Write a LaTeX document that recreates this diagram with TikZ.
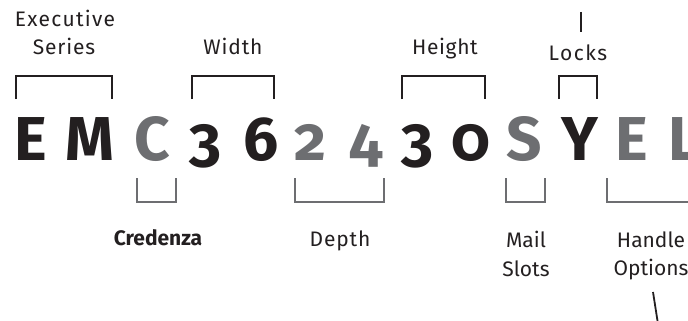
\documentclass[tikz,border=0pt]{standalone}
\usepackage{fontspec}
\setmainfont{Fira Sans}
\newfontfamily\codefont[Numbers=OldStyle]{Fira Sans}
\usepackage{xcolor}
\usetikzlibrary{positioning}
\definecolor{inkdark}{HTML}{231F20}
\definecolor{inkgray}{HTML}{6D6E71}
\tikzset{
  charbase/.style={anchor=base,inner sep=0pt,font=\codefont\bfseries\fontsize{62}{62}\selectfont},
  keychar/.style={charbase,text=inkdark},
  optchar/.style={charbase,text=inkgray},
  fieldname/.style={anchor=base,inner sep=0pt,text=inkdark,font=\fontsize{21}{28}\selectfont},
  spaced/.style={fieldname,font=\fontsize{21}{28}\selectfont\addfontfeature{LetterSpace=#1}},
  upbracket/.style={draw=inkdark,line width=2pt},
  downbracket/.style={draw=inkgray,line width=2pt},
  leader/.style={draw=inkdark,line width=1.8pt}
}
\begin{document}
\begin{tikzpicture}[x=1pt,y=-1pt]
  \useasboundingbox (0,0) rectangle (688,321);
  \clip (0,0) rectangle (688,321);

  % model code
  \node[keychar] (e1) at (31,160) {E};
  \node[keychar] (m)  at (90,160) {M};
  \node[optchar] (c)  at (152,160) {C};
  \node[keychar] (w1) at (205,160) {3};
  \node[keychar] (w2) at (261,160) {6};
  \node[optchar] (d1) at (311,160) {2};
  \node[optchar] (d2) at (366,160) {4};
  \node[keychar] (h1) at (417,160) {3};
  \node[keychar] (h2) at (471,160) {0};
  \node[optchar] (s)  at (524,160) {S};
  \node[keychar] (y)  at (580,160) {Y};
  \node[optchar] (e2) at (632,160) {E};
  \node[optchar] (l)  at (684,160) {L};

  % brackets above
  \draw[upbracket] (16,99) |- (112,76) -- (112,99);
  \draw[upbracket] (192,99) |- (274,76) -- (274,99);
  \draw[upbracket] (402,99) |- (485,76) -- (485,99);
  \draw[upbracket] (559,99) |- (597,76) -- (597,99);

  % brackets below
  \draw[downbracket] (137,178) |- (176,202) -- (176,178);
  \draw[downbracket] (295,178) |- (384,202) -- (384,178);
  \draw[downbracket] (506,178) |- (545,202) -- (545,178);
  \draw[downbracket] (607,178) |- (720,202);

  % field names
  \node[spaced=6] (exec)   at (65,27)  {Executive};
  \node[spaced=4] (series) at (64,55)  {Series};
  \node[spaced=4] (width)  at (233,55) {Width};
  \node[spaced=3] (height) at (445,55) {Height};
  \node[spaced=7] (locks)  at (578,60) {Locks};
  \node[fieldname,font=\bfseries\fontsize{21}{28}\selectfont] (cred) at (158,245) {Credenza};
  \node[spaced=4] (depth)  at (340,246) {Depth};
  \node[fieldname] (mail)   at (526,247) {Mail};
  \node[fieldname] (slots)  at (526,276) {Slots};
  \node[fieldname] (handle) at (651,247) {Handle};
  \node[fieldname] (opts)   at (651,275) {Options};

  % leaders
  \coordinate (locktop) at (581,12);
  \coordinate (lockfoot) at (581,32);
  \draw[leader] (locktop) -- (lockfoot);
  \coordinate (optstop) at (653,292);
  \coordinate (optsfoot) at (658,324);
  \draw[leader] (optstop) -- (optsfoot);
\end{tikzpicture}
\end{document}
